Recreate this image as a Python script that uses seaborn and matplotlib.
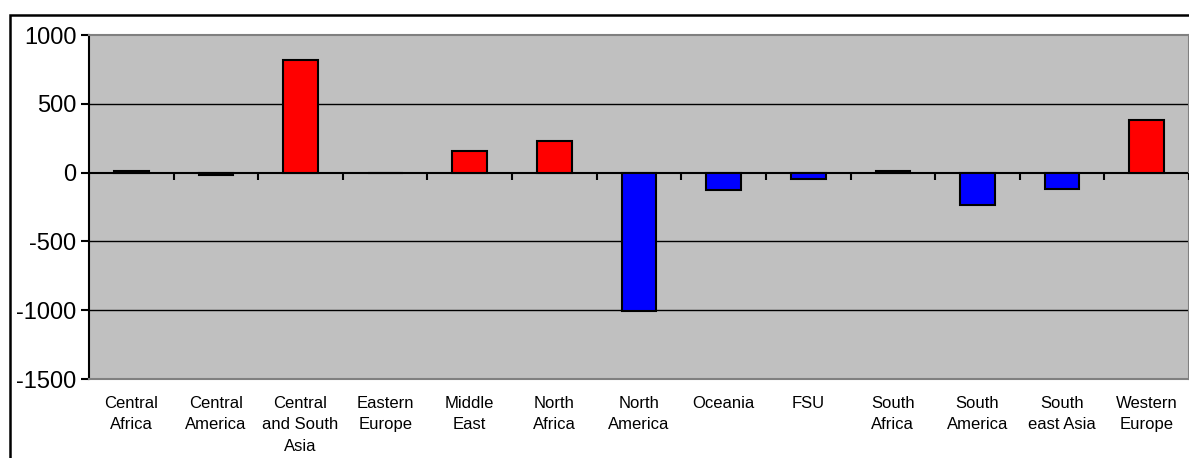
import seaborn as sns
import matplotlib.pyplot as plt
from matplotlib.patches import Rectangle
import numpy as np

# datos
regions = ["Central\nAfrica", "Central\nAmerica", "Central\nand South\nAsia",
           "Eastern\nEurope", "Middle\nEast", "North\nAfrica", "North\nAmerica",
           "Oceania", "FSU", "South\nAfrica", "South\nAmerica", "South\neast Asia",
           "Western\nEurope"]
values = [10, -18, 815, 0, 157, 230, -1005, -130, -47, 10, -233, -117, 385]
yticks = [1000, 500, 0, -500, -1000, -1500]

plt.rcParams["font.family"] = ["Liberation Sans", "DejaVu Sans"]
plt.rcParams["axes.unicode_minus"] = False

fig = plt.figure(figsize=(11.89, 4.58), dpi=100)
ax = fig.add_axes([89 / 1189, 1 - 379 / 458, 1 - 89 / 1189, (379 - 35) / 458])
ax.set_facecolor("#C0C0C0")

# borde exterior
fig.patches.append(Rectangle((10 / 1189, -0.1), 1.2, 1.1 - 15 / 458,
                             transform=fig.transFigure, fill=False,
                             edgecolor="black", linewidth=1.8, zorder=10))

# lineas de cuadricula
for t in yticks[1:-1]:
    ax.axhline(t, color="black", linewidth=1.0 if t != 0 else 1.5, zorder=1)

colors = ["#FF0000" if v > 0 else "#0000FF" for v in values]
sns.barplot(x=regions, y=values, hue=regions, palette=colors, legend=False,
            saturation=1, width=0.41, edgecolor="black", linewidth=1.5,
            ax=ax, zorder=3)

# marcas en el eje cero entre categorias
bounds = np.arange(len(regions) + 1) - 0.5
ax.plot(bounds, np.zeros_like(bounds), linestyle="none", marker=3,
        markersize=5, markeredgewidth=1.5, color="black", zorder=4)

ax.set_xlim(-0.5, len(regions) - 0.5)
ax.set_ylim(-1500, 1000)
ax.set_yticks(yticks)
ax.tick_params(axis="y", labelsize=17, length=6, width=1.5, direction="out", pad=3)
ax.tick_params(axis="x", labelsize=12, length=0, pad=12)
for lbl in ax.get_xticklabels():
    lbl.set_linespacing(1.55)
ax.set_xlabel("")
ax.set_ylabel("")

for side in ["top", "bottom", "right"]:
    ax.spines[side].set_color("#808080")
    ax.spines[side].set_linewidth(1.5)
ax.spines["left"].set_color("black")
ax.spines["left"].set_linewidth(1.5)

fig.savefig("out.png", dpi=100)
